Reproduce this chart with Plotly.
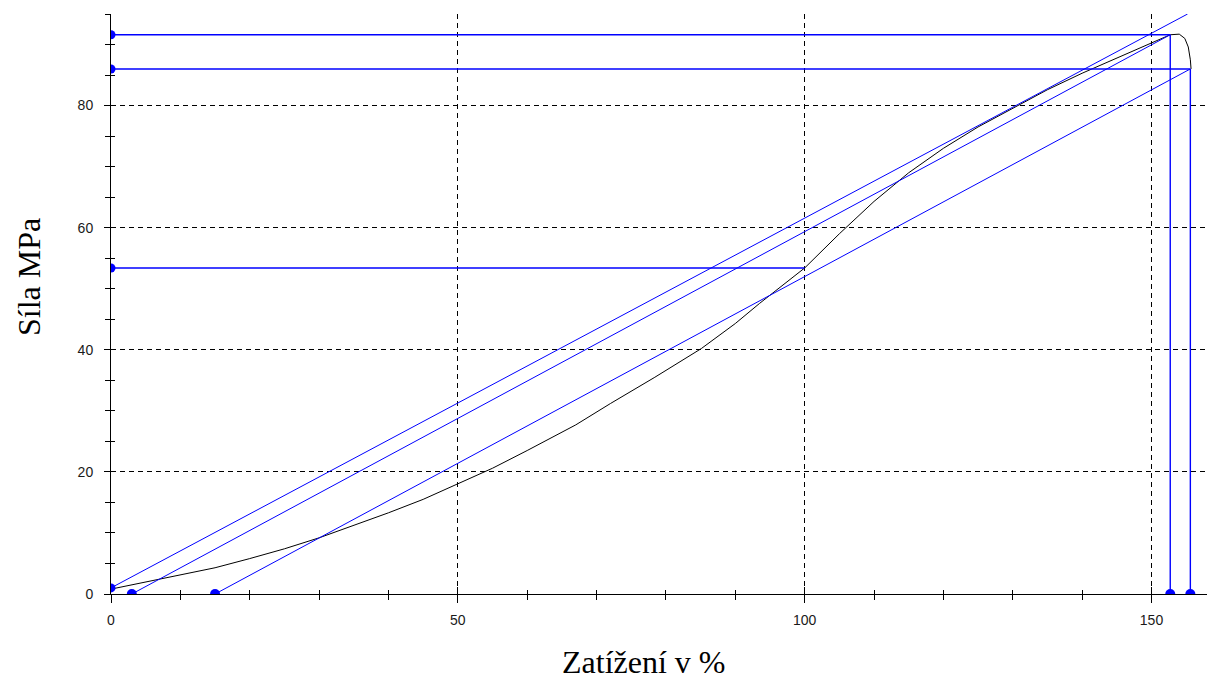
import plotly.graph_objects as go

# ---- data ----
curve_x = [0, 5, 10, 15, 20, 25, 30, 35, 40, 45, 50, 55, 60, 67, 72, 78.4, 85.1, 90, 93.5,
           100, 105, 110, 115, 120, 125, 130, 135, 140, 145, 150, 152.7,
           154.0, 154.8, 155.3, 155.6, 155.7]
curve_y = [0.8, 2.0, 3.2, 4.3, 5.8, 7.4, 9.2, 11.2, 13.3, 15.5, 18.0, 20.6, 23.5, 27.7, 31.2, 35.5, 40.2, 44.3, 47.6,
           53.4, 59.0, 64.3, 69.0, 73.0, 76.5, 79.6, 82.6, 85.3, 87.8, 90.2, 91.6,
           91.7, 91.0, 89.6, 87.5, 86.0]

hline_y = [91.6, 86.0, 53.4]
hline_xend = [152.7, 155.6, 100.0]

vline_x = [152.7, 155.6]
vline_ytop = [91.6, 86.0]

diag_x0 = [0.0, 3.0, 15.0]
diag_y0 = [1.0, 0.0, 0.0]
diag_x1 = [155.2, 152.7, 155.6]
diag_y1 = [95.0, 91.6, 86.0]

left_marker_y = [91.6, 86.0, 53.4, 1.0]
bottom_marker_x = [3.0, 15.0, 152.7, 155.6]

x_major = [0, 50, 100, 150]
y_major = [0, 20, 40, 60, 80]
x_range = [0, 158]
y_range = [0, 95]

BLUE = "#0000ff"

fig = go.Figure()

# black measured curve
fig.add_trace(go.Scatter(x=curve_x, y=curve_y, mode="lines",
                         line=dict(color="black", width=1), hoverinfo="skip"))

# diagonal blue lines
dx, dy = [], []
for a, b, c, d in zip(diag_x0, diag_y0, diag_x1, diag_y1):
    dx += [a, c, None]
    dy += [b, d, None]
fig.add_trace(go.Scatter(x=dx, y=dy, mode="lines", line=dict(color=BLUE, width=1)))

# horizontal and vertical blue lines
hx, hy = [], []
for y, xe in zip(hline_y, hline_xend):
    hx += [0, xe, None]
    hy += [y, y, None]
for x, yt in zip(vline_x, vline_ytop):
    hx += [x, x, None]
    hy += [0, yt, None]
fig.add_trace(go.Scatter(x=hx, y=hy, mode="lines", line=dict(color=BLUE, width=1.4)))

# markers
fig.add_trace(go.Scatter(x=[0] * len(left_marker_y), y=left_marker_y, mode="markers",
                         marker=dict(color=BLUE, size=9), cliponaxis=True))
fig.add_trace(go.Scatter(x=bottom_marker_x, y=[0] * len(bottom_marker_x), mode="markers",
                         marker=dict(color=BLUE, size=10), cliponaxis=True))

# dummy trace for overlay axes (inner tick halves)
fig.add_trace(go.Scatter(x=[None], y=[None], xaxis="x2", yaxis="y2", mode="markers",
                         showlegend=False))

tickfont = dict(family="Liberation Sans, Arial", size=14, color="#1a1a1a")

fig.update_layout(
    width=1207, height=682,
    margin=dict(l=111, r=0, t=14, b=88),
    paper_bgcolor="white", plot_bgcolor="white",
    showlegend=False,
    xaxis=dict(range=x_range, tickvals=x_major, ticktext=[str(v) for v in x_major],
               ticks="outside", ticklen=8, tickcolor="black", tickwidth=1,
               minor=dict(dtick=10, tick0=0, ticks="outside", ticklen=5, tickcolor="black",
                          showgrid=False),
               showgrid=True, gridcolor="black", griddash="5px,4px", gridwidth=1,
               showline=True, linecolor="black", linewidth=1,
               zeroline=False, tickfont=tickfont, ticklabelstandoff=5),
    yaxis=dict(range=y_range, tickvals=y_major, ticktext=[str(v) for v in y_major],
               ticks="outside", ticklen=6, tickcolor="black", tickwidth=1,
               minor=dict(dtick=5, tick0=0, ticks="outside", ticklen=5, tickcolor="black",
                          showgrid=False),
               showgrid=True, gridcolor="black", griddash="5px,4px", gridwidth=1,
               showline=True, linecolor="black", linewidth=1,
               zeroline=False, tickfont=tickfont, ticklabelstandoff=8),
    xaxis2=dict(range=x_range, overlaying="x", anchor="y2", side="bottom",
                tickvals=x_major, ticks="inside", ticklen=7, tickcolor="black",
                minor=dict(dtick=10, tick0=0, ticks="inside", ticklen=4, tickcolor="black"),
                showticklabels=False, showgrid=False, showline=False, zeroline=False),
    yaxis2=dict(range=y_range, overlaying="y", anchor="x2", side="left",
                tickvals=y_major, ticks="inside", ticklen=5, tickcolor="black",
                minor=dict(dtick=5, tick0=0, ticks="inside", ticklen=4, tickcolor="black"),
                showticklabels=False, showgrid=False, showline=False, zeroline=False),
    annotations=[
        dict(text="Zatížení v %", xref="paper", yref="paper",
             x=(643 - 111) / 1096, y=-(662 - 594) / 580, xanchor="center", yanchor="middle",
             showarrow=False, font=dict(family="Liberation Serif, Times New Roman", size=32, color="black")),
        dict(text="Síla MPa", xref="paper", yref="paper", textangle=-90,
             x=(29 - 111) / 1096, y=(594 - 277) / 580, xanchor="center", yanchor="middle",
             showarrow=False, font=dict(family="Liberation Serif, Times New Roman", size=32, color="black")),
    ],
)

fig.write_html("out.html", config={"displayModeBar": False},
               post_script="document.body.style.margin='0';document.body.style.overflow='hidden';")
